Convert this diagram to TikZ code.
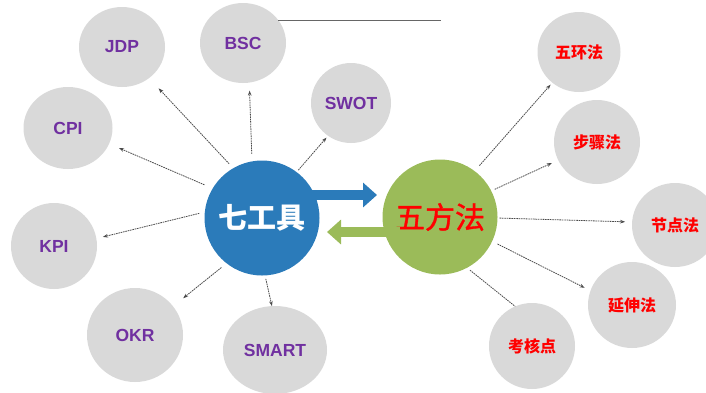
\documentclass[tikz,border=0pt]{standalone}
\usepackage{fontspec}
\setmainfont{Liberation Sans}
\newfontfamily\cjk{Noto Sans CJK SC}
\newfontfamily\cjkmed[FakeBold=1.2]{Noto Sans CJK SC}
\usetikzlibrary{shapes.geometric,arrows.meta,calc}
\definecolor{blueC}{HTML}{2B7BBA}
\definecolor{greenC}{HTML}{9BBB59}
\definecolor{grayC}{HTML}{D9D9D9}
\definecolor{purpleC}{HTML}{7030A0}
\definecolor{redC}{HTML}{FF0000}
\definecolor{connC}{HTML}{4A4A4A}
\definecolor{lineC}{HTML}{666666}
\begin{document}
\begin{tikzpicture}[x=1pt,y=-1pt,
  bub/.style={ellipse, fill=grayC, inner sep=0pt, outer sep=0pt},
  lat/.style={bub, text=purpleC, font=\bfseries\fontsize{17.5}{17.5}\selectfont},
  cn/.style={bub, text=redC, font=\cjk\bfseries\fontsize{16}{16}\selectfont},
  hub/.style={circle, minimum size=115pt, inner sep=0pt, outer sep=0pt},
  conn/.style={draw=connC, line width=0.8pt, dash pattern=on 1.6pt off 0.8pt, -{Stealth[length=5pt,width=3.6pt]}},
  plainconn/.style={draw=connC, line width=0.8pt, dash pattern=on 1.6pt off 0.8pt},
  blockarrow/.style={line width=10pt, -{Triangle[length=14pt,width=24pt]}}
]
\useasboundingbox (0,0) rectangle (706,392);

% hubs
\node[hub, fill=blueC, text=white, font=\cjk\bfseries\fontsize{29}{29}\selectfont] (blue) at (262,218) {七工具};
\node[hub, fill=greenC, text=redC, font=\cjkmed\fontsize{30}{30}\selectfont] (green) at (440,217) {五方法};

% left bubbles
\node[lat, minimum width=86pt, minimum height=80pt] (jdp) at (122,47) {JDP};
\node[lat, minimum width=86pt, minimum height=80pt] (bsc) at (243,43) {BSC};
\node[lat, minimum width=80pt, minimum height=80pt] (swot) at (351,103) {SWOT};
\node[lat, minimum width=89pt, minimum height=82pt] (cpi) at (68,128) {CPI};
\node[lat, minimum width=86pt, minimum height=86pt] (kpi) at (54,246) {KPI};
\node[lat, minimum width=96pt, minimum height=94pt] (okr) at (135,335) {OKR};
\node[lat, minimum width=104pt, minimum height=88pt] (smart) at (275,350) {SMART};

% right bubbles
\node[cn, minimum width=83pt, minimum height=80pt] (wuhuan) at (579,52) {五环法};
\node[cn, minimum width=86pt, minimum height=84pt] (buzhou) at (597,142) {步骤法};
\node[cn, minimum width=86pt, minimum height=84pt] (jiedian) at (675,225) {节点法};
\node[cn, minimum width=88pt, minimum height=86pt] (yanshen) at (632,305) {延伸法};
\node[cn, minimum width=86pt, minimum height=86pt] (kaohe) at (532,346) {考核点};

% top line
\coordinate (lineend) at (441,20);
\draw[draw=lineC, line width=0.9pt] (bsc.33) -- (bsc.33 -| lineend);

% block arrows
\draw[blockarrow, draw=blueC] ($(blue.center)+(40,-23)$) -- ($(green.center)+(-63,-22)$);
\draw[blockarrow, draw=greenC] ($(green.center)+(-40,15)$) -- ($(blue.center)+(65,14)$);

% connectors from 七工具
\draw[conn, shorten <=6pt, shorten >=14pt] (blue.120) -- (jdp.-49);
\draw[conn, shorten <=7.5pt, shorten >=8pt] (blue.100.6) -- (bsc.-81.7);
\draw[conn, shorten <=2.5pt, shorten >=2.4pt] (blue.53) -- (swot.235.6);
\draw[conn, shorten <=9pt, shorten >=10.8pt] (blue.149.2) -- (cpi.-21.4);
\draw[conn, shorten <=5.8pt, shorten >=6.8pt] (blue.174.6) -- (kpi.10.4);
\draw[conn, shorten <=6.7pt, shorten >=13pt] (blue.232.6) -- (okr.37.6);
\draw[conn, shorten <=3.5pt] (blue.-87.2) -- (smart.94);

% connectors from 五方法
\draw[conn, shorten <=7.4pt, shorten >=2.7pt] (green.53.8) -- (wuhuan.229.7);
\draw[conn, shorten <=3.8pt, shorten >=7pt] (green.27.4) -- (buzhou.205);
\draw[conn, shorten <=2pt, shorten >=7pt] (green.-1) -- (jiedian.176.6);
\draw[conn, shorten <=6pt, shorten >=6.5pt] (green.-25.3) -- (yanshen.161.6);
\draw[plainconn, shorten <=3.8pt] (green.-62.6) -- (kaohe.113.6);
\end{tikzpicture}
\end{document}
